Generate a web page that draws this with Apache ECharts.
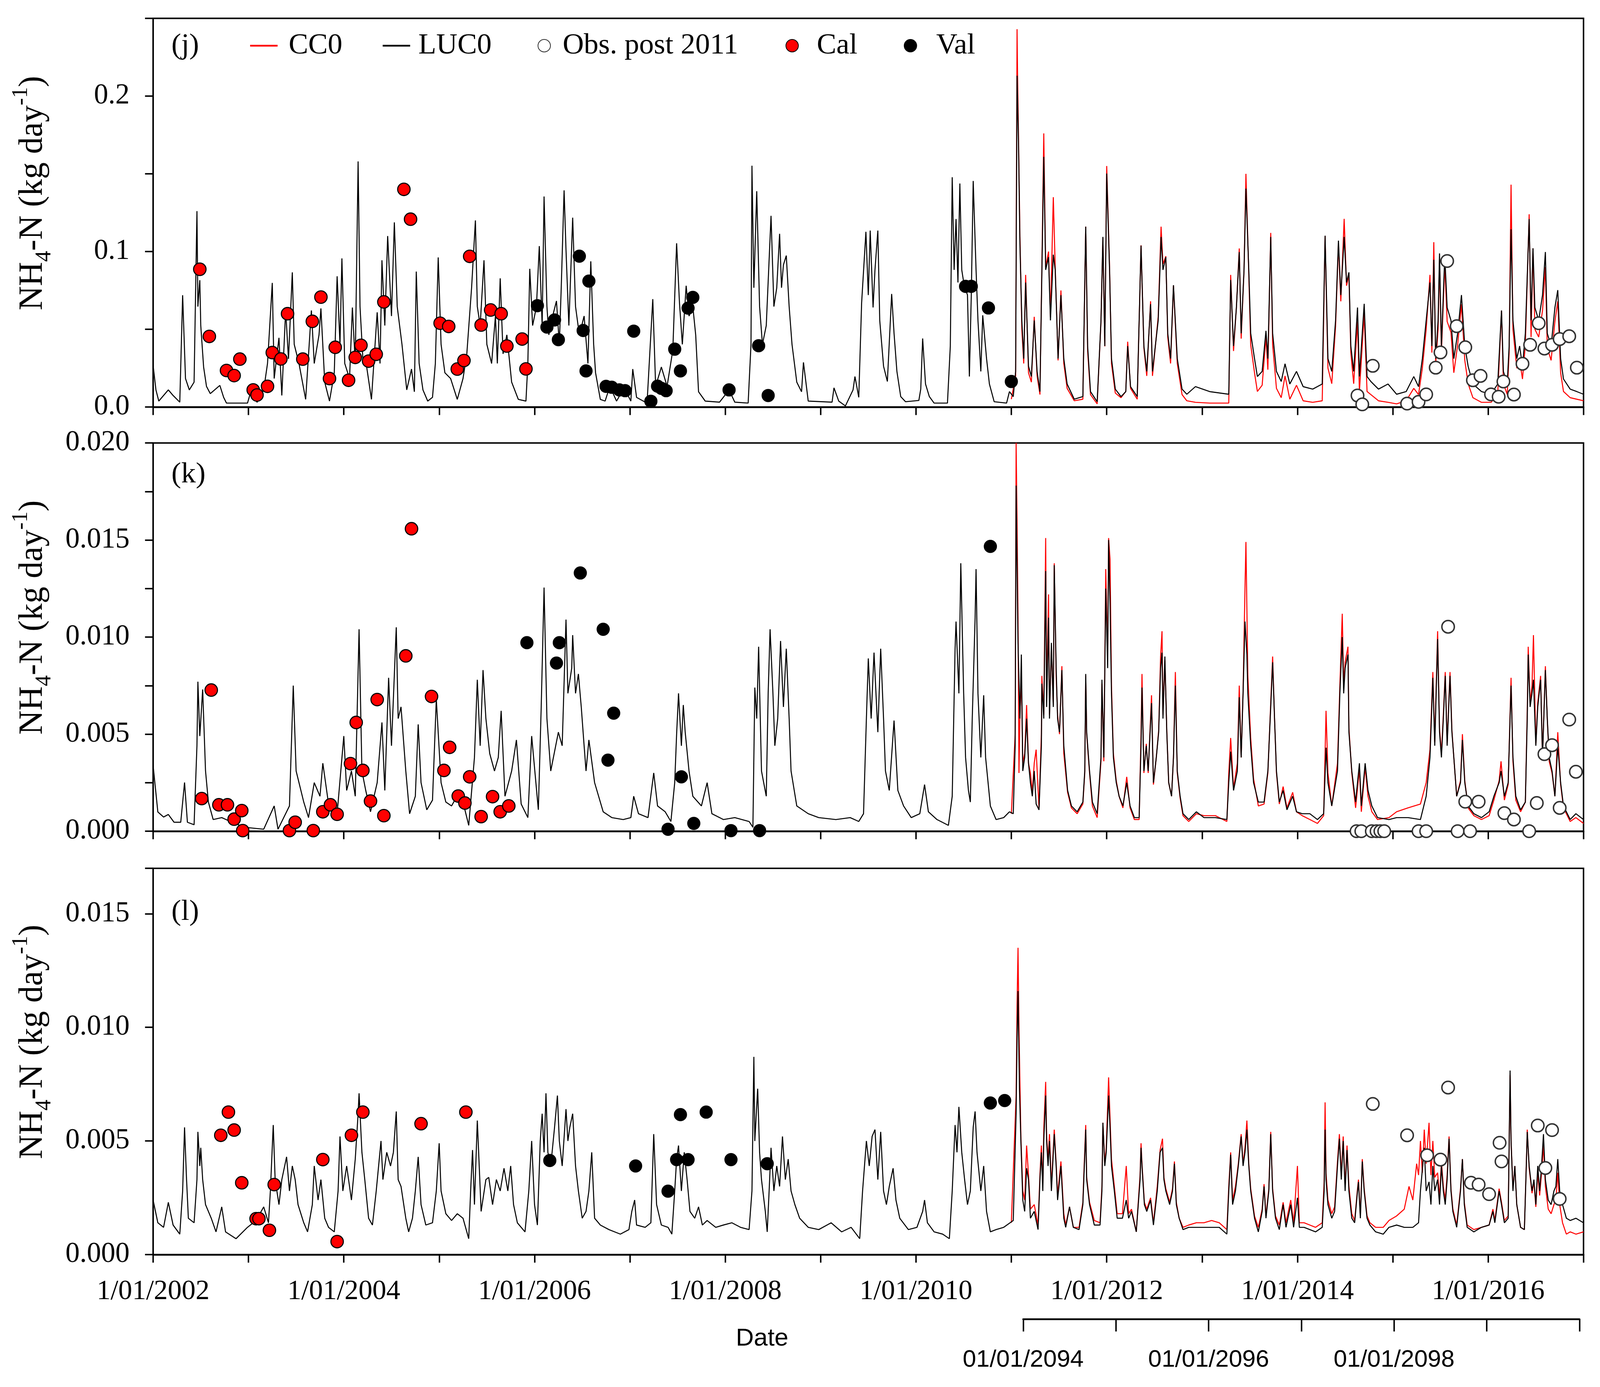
<!DOCTYPE html>
<html>
<head>
<meta charset="utf-8">
<script src="https://cdn.jsdelivr.net/npm/echarts@6/dist/echarts.min.js"></script>
<style>
html,body{margin:0;padding:0;background:#fff;overflow:hidden;width:100%;height:100%;}
#chart{position:absolute;left:0;top:0;width:100vw;height:100vh;}
</style>
</head>
<body>
<div id="chart"></div>
<script>
// ---------- DATA (decimal year, value) ----------
const yearTicksMain = [2002, 2004, 2006, 2008, 2010, 2012, 2014, 2016];
const yearTicksFuture = [2094, 2096, 2098];

// Panel (j) NH4-N, LUC0 (black)
const jLuc = [
[2002.00,0.0269],[2002.03,0.011],[2002.06,0.0038],[2002.16,0.011],[2002.21,0.0074],[2002.28,0.0031],[2002.31,0.0719],[2002.34,0.0183],[2002.38,0.011],[2002.43,0.016],[2002.46,0.126],[2002.47,0.0646],[2002.49,0.0816],[2002.50,0.0524],[2002.53,0.0257],[2002.56,0.0133],[2002.60,0.0086],[2002.70,0.0139],[2002.74,0.0062],[2002.77,0.0025],[2002.99,0.0025],[2003.03,0.011],[2003.09,0.003],[2003.16,0.011],[2003.20,0.028],[2003.25,0.0798],[2003.27,0.0183],[2003.32,0.0445],[2003.35,0.0074],[2003.39,0.0621],[2003.42,0.031],[2003.46,0.0866],[2003.48,0.0403],[2003.53,0.028],[2003.60,0.0049],[2003.66,0.0621],[2003.69,0.028],[2003.74,0.0464],[2003.76,0.0634],[2003.80,0.016],[2003.85,0.0038],[2003.90,0.022],[2003.93,0.0841],[2003.96,0.0403],[2003.98,0.0956],[2004.01,0.028],[2004.06,0.0183],[2004.09,0.064],[2004.12,0.028],[2004.15,0.158],[2004.17,0.0646],[2004.20,0.031],[2004.24,0.0257],[2004.29,0.0049],[2004.35,0.0609],[2004.38,0.028],[2004.40,0.0944],[2004.43,0.0524],[2004.46,0.110],[2004.50,0.0585],[2004.53,0.1188],[2004.56,0.0646],[2004.61,0.0403],[2004.66,0.011],[2004.71,0.0244],[2004.74,0.0098],[2004.76,0.0871],[2004.79,0.028],[2004.83,0.011],[2004.88,0.0038],[2004.93,0.0062],[2004.96,0.028],[2004.99,0.0962],[2005.02,0.0403],[2005.06,0.022],[2005.12,0.0183],[2005.19,0.0049],[2005.25,0.0183],[2005.29,0.0342],[2005.34,0.0767],[2005.38,0.120],[2005.40,0.0646],[2005.43,0.0524],[2005.47,0.0944],[2005.50,0.0403],[2005.55,0.028],[2005.59,0.0585],[2005.61,0.028],[2005.64,0.0828],[2005.67,0.0342],[2005.71,0.0464],[2005.76,0.016],[2005.83,0.0049],[2005.91,0.0038],[2005.93,0.028],[2005.95,0.0889],[2005.98,0.0524],[2006.02,0.0646],[2006.05,0.1035],[2006.08,0.0524],[2006.10,0.1354],[2006.13,0.0646],[2006.15,0.0464],[2006.19,0.0585],[2006.23,0.0682],[2006.26,0.0403],[2006.28,0.0767],[2006.31,0.1394],[2006.33,0.1011],[2006.36,0.0524],[2006.40,0.1218],[2006.43,0.0646],[2006.47,0.0464],[2006.52,0.0585],[2006.56,0.028],[2006.59,0.0937],[2006.62,0.0403],[2006.64,0.022],[2006.69,0.0049],[2006.74,0.0038],[2006.79,0.0133],[2006.86,0.0038],[2006.94,0.0123],[2007.01,0.0038],[2007.03,0.0244],[2007.07,0.0062],[2007.18,0.0025],[2007.24,0.0694],[2007.27,0.0133],[2007.33,0.0257],[2007.39,0.0133],[2007.45,0.0366],[2007.49,0.1053],[2007.52,0.067],[2007.55,0.0403],[2007.59,0.078],[2007.62,0.0585],[2007.66,0.0646],[2007.69,0.0464],[2007.72,0.0098],[2007.79,0.0038],[2007.94,0.0031],[2008.04,0.011],[2008.10,0.0031],[2008.24,0.0025],[2008.27,0.0403],[2008.28,0.1552],[2008.30,0.0767],[2008.33,0.1388],[2008.36,0.0646],[2008.39,0.0403],[2008.43,0.0524],[2008.48,0.123],[2008.51,0.0646],[2008.54,0.0767],[2008.57,0.1114],[2008.59,0.0767],[2008.61,0.0914],[2008.64,0.0974],[2008.67,0.0646],[2008.70,0.0403],[2008.75,0.016],[2008.80,0.0098],[2008.82,0.0287],[2008.87,0.0038],[2009.12,0.0031],[2009.14,0.0123],[2009.19,0.0038],[2009.26,0.0007],[2009.34,0.011],[2009.36,0.0196],[2009.40,0.0062],
[2009.43,0.067],[2009.475,0.1127],[2009.50,0.072],[2009.52,0.1135],[2009.55,0.064],[2009.57,0.0882],[2009.60,0.1135],[2009.62,0.0557],[2009.66,0.0262],[2009.70,0.0164],[2009.745,0.0727],[2009.77,0.0474],[2009.80,0.0229],[2009.84,0.0067],[2009.89,0.0034],[2010.03,0.0042],[2010.05,0.0115],[2010.07,0.0441],[2010.10,0.0148],[2010.14,0.0067],[2010.19,0.0025],[2010.33,0.0025],[2010.36,0.0392],[2010.38,0.1478],[2010.40,0.0882],[2010.42,0.1209],[2010.44,0.0801],[2010.46,0.1438],[2010.48,0.0882],[2010.505,0.0784],[2010.54,0.072],[2010.56,0.0196],[2010.58,0.072],[2010.60,0.1454],[2010.63,0.0882],[2010.65,0.0557],[2010.68,0.0229],[2010.70,0.059],[2010.74,0.0311],[2010.77,0.0148],[2010.82,0.0034],[2010.95,0.0025],[2010.98,0.0099],[2011.02,0.0067],[2011.045,0.0229],[2011.06,0.2131],[2011.075,0.1699],[2011.09,0.1046],[2011.11,0.0557],[2011.13,0.0311],[2011.15,0.0801],[2011.18,0.0262],[2011.21,0.0196],[2011.24,0.0557],[2011.27,0.0229],[2011.30,0.0099],[2011.325,0.1046],[2011.34,0.1609],[2011.36,0.0882],[2011.39,0.0964],[2011.41,0.0557],[2011.44,0.098],[2011.46,0.0882],[2011.49,0.0311],[2011.52,0.072],[2011.55,0.0311],[2011.585,0.0148],[2011.66,0.005],[2011.75,0.0067],[2011.78,0.116],[2011.80,0.0392],[2011.83,0.0099],[2011.90,0.0034],[2011.94,0.0557],[2011.96,0.1094],[2011.98,0.0392],[2012.00,0.1502],[2012.03,0.0882],[2012.05,0.0311],[2012.09,0.0115],[2012.15,0.0067],[2012.20,0.0099],[2012.22,0.0392],[2012.25,0.0131],[2012.32,0.0067],[2012.36,0.1038],[2012.39,0.0392],[2012.42,0.0229],[2012.46,0.0662],[2012.48,0.0229],[2012.54,0.0557],[2012.57,0.1094],[2012.59,0.0882],[2012.62,0.0964],[2012.64,0.0474],[2012.67,0.0311],[2012.70,0.0784],[2012.74,0.0311],[2012.79,0.0115],[2012.84,0.0082],[2012.93,0.0131],[2013.08,0.0099],[2013.28,0.0082],[2013.30,0.0817],[2013.33,0.0392],[2013.36,0.064],[2013.39,0.0997],[2013.41,0.0474],[2013.44,0.0882],[2013.46,0.1405],[2013.49,0.0882],[2013.51,0.0474],[2013.55,0.0311],[2013.58,0.0196],[2013.63,0.0229],[2013.67,0.049],[2013.69,0.0311],[2013.72,0.1094],[2013.74,0.0474],[2013.78,0.0229],[2013.83,0.0164],[2013.87,0.0278],[2013.92,0.0148],[2013.99,0.0229],[2014.06,0.0131],[2014.16,0.0115],[2014.26,0.0148],[2014.29,0.1102],[2014.32,0.0311],[2014.36,0.0229],[2014.40,0.0557],[2014.43,0.107],[2014.455,0.072],[2014.49,0.1094],[2014.515,0.0801],[2014.54,0.0866],[2014.56,0.0392],[2014.59,0.0229],[2014.63,0.064],[2014.65,0.0196],[2014.70,0.0664],[2014.73,0.0196],[2014.77,0.0164],[2014.85,0.0115],[2014.95,0.0148],[2015.04,0.0082],[2015.14,0.0099],[2015.22,0.0196],[2015.27,0.0131],[2015.31,0.0311],[2015.35,0.0557],[2015.39,0.0801],[2015.41,0.0392],[2015.43,0.0947],[2015.45,0.0311],[2015.475,0.0557],[2015.49,0.0988],[2015.51,0.0392],[2015.545,0.0972],[2015.57,0.064],[2015.61,0.0557],[2015.64,0.0311],[2015.68,0.0474],[2015.72,0.072],[2015.755,0.0392],[2015.79,0.0262],[2015.84,0.0148],[2015.93,0.0099],[2016.03,0.0082],[2016.10,0.0148],[2016.14,0.0621],[2016.16,0.0229],[2016.20,0.0148],[2016.22,0.0392],[2016.24,0.1143],[2016.26,0.0557],[2016.30,0.0311],[2016.33,0.0392],[2016.36,0.0262],[2016.39,0.0474],[2016.43,0.1209],[2016.45,0.0557],[2016.47,0.1021],[2016.49,0.064],[2016.53,0.0557],[2016.57,0.072],[2016.60,0.0997],[2016.62,0.0474],[2016.66,0.0392],[2016.70,0.064],[2016.73,0.0752],[2016.76,0.0311],[2016.79,0.018],[2016.86,0.0115],[2016.93,0.0099],[2017.00,0.0082]
];
// Panel (j) CC0 (red)
const jCc = [
[2011.00,0.005],[2011.045,0.02],[2011.06,0.243],[2011.065,0.215],[2011.075,0.175],[2011.09,0.11],[2011.11,0.05],[2011.13,0.028],[2011.15,0.085],[2011.18,0.022],[2011.21,0.016],[2011.24,0.058],[2011.27,0.02],[2011.30,0.008],[2011.325,0.11],[2011.34,0.176],[2011.36,0.09],[2011.39,0.1],[2011.41,0.058],[2011.44,0.135],[2011.46,0.09],[2011.49,0.03],[2011.52,0.075],[2011.55,0.028],[2011.585,0.012],[2011.66,0.004],[2011.75,0.005],[2011.78,0.116],[2011.80,0.036],[2011.83,0.008],[2011.90,0.002],[2011.94,0.055],[2011.96,0.109],[2011.98,0.039],[2012.00,0.155],[2012.03,0.09],[2012.05,0.028],[2012.09,0.009],[2012.15,0.006],[2012.20,0.01],[2012.22,0.042],[2012.25,0.012],[2012.32,0.005],[2012.36,0.104],[2012.39,0.038],[2012.42,0.02],[2012.46,0.068],[2012.48,0.02],[2012.54,0.058],[2012.57,0.116],[2012.59,0.092],[2012.62,0.097],[2012.64,0.045],[2012.67,0.028],[2012.70,0.078],[2012.74,0.028],[2012.79,0.008],[2012.84,0.004],[2012.93,0.003],[2013.08,0.0025],[2013.28,0.0025],[2013.30,0.085],[2013.33,0.036],[2013.36,0.064],[2013.39,0.102],[2013.41,0.044],[2013.44,0.088],[2013.46,0.15],[2013.49,0.085],[2013.51,0.04],[2013.55,0.022],[2013.58,0.01],[2013.63,0.014],[2013.67,0.045],[2013.69,0.024],[2013.72,0.112],[2013.74,0.04],[2013.78,0.012],[2013.83,0.006],[2013.87,0.02],[2013.92,0.005],[2013.99,0.014],[2014.06,0.004],[2014.16,0.003],[2014.26,0.004],[2014.29,0.11],[2014.32,0.025],[2014.36,0.015],[2014.40,0.052],[2014.43,0.105],[2014.455,0.068],[2014.49,0.121],[2014.515,0.078],[2014.54,0.085],[2014.56,0.035],[2014.59,0.015],[2014.63,0.055],[2014.65,0.01],[2014.70,0.06],[2014.73,0.01],[2014.77,0.008],[2014.85,0.004],[2014.95,0.003],[2015.04,0.002],[2015.14,0.004],[2015.22,0.012],[2015.27,0.008],[2015.31,0.025],[2015.35,0.05],[2015.39,0.085],[2015.41,0.035],[2015.43,0.106],[2015.45,0.028],[2015.475,0.05],[2015.49,0.095],[2015.51,0.035],[2015.545,0.092],[2015.57,0.055],[2015.61,0.048],[2015.64,0.022],[2015.68,0.04],[2015.72,0.066],[2015.755,0.03],[2015.79,0.015],[2015.84,0.006],[2015.93,0.003],[2016.03,0.003],[2016.10,0.008],[2016.14,0.062],[2016.16,0.015],[2016.20,0.008],[2016.22,0.035],[2016.24,0.143],[2016.26,0.05],[2016.30,0.025],[2016.33,0.03],[2016.36,0.018],[2016.39,0.04],[2016.43,0.124],[2016.45,0.045],[2016.47,0.102],[2016.49,0.05],[2016.53,0.045],[2016.57,0.062],[2016.60,0.09],[2016.62,0.038],[2016.66,0.03],[2016.70,0.055],[2016.73,0.068],[2016.76,0.022],[2016.79,0.01],[2016.86,0.006],[2016.93,0.005],[2017.00,0.004]
];
const jCal = [[2002.49,0.0886],[2002.59,0.0454],[2002.77,0.0235],[2002.85,0.0202],[2002.91,0.0308],[2003.05,0.011],[2003.09,0.0077],[2003.20,0.0133],[2003.25,0.035],[2003.34,0.0309],[2003.41,0.060],[2003.57,0.0308],[2003.67,0.0551],[2003.76,0.0707],[2003.85,0.0183],[2003.91,0.0384],[2004.05,0.0172],[2004.12,0.0319],[2004.18,0.0397],[2004.26,0.0295],[2004.34,0.0339],[2004.42,0.0676],[2004.63,0.140],[2004.70,0.1208],[2005.01,0.0539],[2005.10,0.0518],[2005.19,0.0244],[2005.26,0.0299],[2005.32,0.0969],[2005.44,0.0527],[2005.54,0.0624],[2005.65,0.060],[2005.71,0.0392],[2005.87,0.0437],[2005.91,0.0245]];
const jVal = [[2006.03,0.0652],[2006.13,0.0514],[2006.21,0.056],[2006.25,0.0433],[2006.47,0.097],[2006.51,0.0492],[2006.54,0.0232],[2006.57,0.081],[2006.75,0.0133],[2006.81,0.0127],[2006.89,0.011],[2006.95,0.0105],[2007.04,0.0488],[2007.22,0.0037],[2007.29,0.0134],[2007.33,0.012],[2007.38,0.0105],[2007.47,0.0372],[2007.53,0.0232],[2007.61,0.0636],[2007.66,0.0705],[2008.04,0.011],[2008.35,0.0394],[2008.45,0.0074],[2010.52,0.0776],[2010.58,0.0776],[2010.76,0.0637],[2011.0,0.0164]];
const jObs = [[2014.63,0.0074],[2014.68,0.0017],[2014.79,0.0265],[2015.15,0.0022],[2015.27,0.0033],[2015.35,0.0081],[2015.45,0.0253],[2015.50,0.0351],[2015.57,0.0939],[2015.67,0.052],[2015.76,0.0384],[2015.84,0.0172],[2015.92,0.020],[2016.03,0.0081],[2016.11,0.0066],[2016.16,0.0164],[2016.27,0.008],[2016.36,0.0278],[2016.44,0.040],[2016.53,0.0539],[2016.59,0.0376],[2016.67,0.040],[2016.75,0.0437],[2016.85,0.0455],[2016.93,0.0253]];

// Panel (k)
const kLuc = [
[2002.00,0.0034],[2002.05,0.00099],[2002.11,0.00073],[2002.16,0.00086],[2002.22,0.00046],[2002.29,0.00046],[2002.33,0.00251],[2002.36,0.00046],[2002.43,0.00033],[2002.46,0.0044],[2002.47,0.0077],[2002.49,0.0049],[2002.52,0.0073],[2002.55,0.0031],[2002.58,0.0015],[2002.63,0.0006],[2002.72,0.0007],[2002.81,0.0005],[2002.96,0.0002],[2003.16,0.0001],[2003.27,0.0013],[2003.31,0.0001],[2003.43,0.0013],[2003.47,0.0075],[2003.50,0.0031],[2003.58,0.0015],[2003.63,0.0007],[2003.69,0.0025],[2003.75,0.0018],[2003.78,0.0035],[2003.84,0.0014],[2003.93,0.0009],[2004.00,0.0049],[2004.03,0.0021],[2004.08,0.0031],[2004.12,0.0018],[2004.16,0.0104],[2004.19,0.0031],[2004.23,0.0021],[2004.28,0.001],[2004.35,0.0025],[2004.40,0.0056],[2004.43,0.0021],[2004.47,0.0079],[2004.50,0.0044],[2004.55,0.0105],[2004.57,0.0058],[2004.60,0.0064],[2004.65,0.0031],[2004.69,0.0009],[2004.75,0.0018],[2004.78,0.0055],[2004.81,0.0025],[2004.87,0.0011],[2004.93,0.0016],[2004.97,0.0068],[2005.02,0.0025],[2005.07,0.0015],[2005.13,0.0013],[2005.22,0.0021],[2005.31,0.0003],[2005.37,0.0038],[2005.40,0.0078],[2005.43,0.0044],[2005.46,0.0083],[2005.49,0.0058],[2005.53,0.004],[2005.58,0.0031],[2005.62,0.0038],[2005.65,0.0062],[2005.69,0.0018],[2005.76,0.0031],[2005.81,0.0047],[2005.86,0.0014],[2005.93,0.0007],[2005.97,0.0049],[2006.04,0.0011],[2006.07,0.0064],[2006.10,0.01255],[2006.13,0.0058],[2006.17,0.0031],[2006.25,0.0051],[2006.29,0.0044],[2006.33,0.0109],[2006.35,0.0071],[2006.39,0.0084],[2006.40,0.0101],[2006.43,0.0071],[2006.46,0.0081],[2006.49,0.0064],[2006.52,0.0044],[2006.54,0.0031],[2006.57,0.0047],[2006.63,0.0025],[2006.72,0.001],[2006.81,0.0007],[2006.93,0.0006],[2007.01,0.0007],[2007.04,0.0018],[2007.09,0.0009],[2007.19,0.0007],[2007.25,0.003],[2007.29,0.0013],[2007.37,0.001],[2007.43,0.0005],[2007.47,0.0025],[2007.49,0.005],[2007.51,0.0071],[2007.54,0.0044],[2007.56,0.0065],[2007.58,0.0051],[2007.62,0.0031],[2007.66,0.0018],[2007.75,0.0013],[2007.81,0.0025],[2007.86,0.0009],[2007.98,0.0006],[2008.10,0.0007],[2008.25,0.0005],[2008.29,0.0002],[2008.31,0.0074],[2008.33,0.0058],[2008.35,0.0095],[2008.38,0.0031],[2008.43,0.0018],[2008.45,0.0071],[2008.47,0.0104],[2008.50,0.0071],[2008.52,0.0044],[2008.55,0.0058],[2008.58,0.0098],[2008.61,0.0064],[2008.64,0.0094],[2008.67,0.0058],[2008.69,0.0031],[2008.75,0.0013],[2008.87,0.0009],[2008.98,0.0007],[2009.16,0.0006],[2009.31,0.0007],[2009.40,0.0005],[2009.45,0.0009],[2009.48,0.0058],[2009.50,0.0089],[2009.53,0.0058],[2009.56,0.0092],[2009.60,0.0051],[2009.63,0.0094],[2009.66,0.0058],[2009.68,0.0031],[2009.72,0.0021],[2009.77,0.0057],[2009.81,0.0021],[2009.87,0.0013],[2009.95,0.0007],[2010.04,0.0009],[2010.09,0.0024],[2010.13,0.001],[2010.22,0.0006],[2010.34,0.0003],[2010.38,0.0018],[2010.41,0.0094],[2010.42,0.0108],[2010.45,0.0071],[2010.47,0.0138],[2010.50,0.0071],[2010.52,0.0038],[2010.55,0.0021],[2010.57,0.0015],[2010.59,0.0058],[2010.62,0.011],[2010.63,0.0135],[2010.65,0.0071],[2010.68,0.0038],[2010.71,0.007],[2010.73,0.0038],[2010.78,0.0013],[2010.84,0.0006],[2010.92,0.0007],[2010.98,0.001],
[2011.02,0.0009],[2011.04,0.0044],[2011.05,0.0178],[2011.06,0.0137],[2011.07,0.0097],[2011.09,0.0058],[2011.105,0.0091],[2011.12,0.0031],[2011.14,0.0038],[2011.16,0.0058],[2011.18,0.0035],[2011.20,0.0025],[2011.22,0.0018],[2011.24,0.0031],[2011.26,0.0014],[2011.29,0.0011],[2011.315,0.0044],[2011.32,0.0076],[2011.34,0.0058],[2011.36,0.0134],[2011.37,0.0064],[2011.39,0.011],[2011.40,0.0058],[2011.42,0.0097],[2011.44,0.0064],[2011.45,0.0137],[2011.47,0.0084],[2011.485,0.0058],[2011.505,0.0051],[2011.53,0.0083],[2011.55,0.0044],[2011.59,0.0021],[2011.63,0.0013],[2011.69,0.001],[2011.75,0.0015],[2011.77,0.0031],[2011.78,0.0081],[2011.79,0.0051],[2011.82,0.0031],[2011.85,0.0015],[2011.90,0.0009],[2011.94,0.0038],[2011.95,0.0078],[2011.97,0.0038],[2011.99,0.0125],[2012.01,0.0084],[2012.02,0.015],[2012.035,0.0117],[2012.05,0.0071],[2012.07,0.0038],[2012.10,0.0025],[2012.13,0.0018],[2012.17,0.0013],[2012.21,0.0025],[2012.245,0.0013],[2012.29,0.0007],[2012.34,0.0007],[2012.36,0.0044],[2012.37,0.0074],[2012.39,0.0031],[2012.415,0.0044],[2012.435,0.0031],[2012.47,0.0066],[2012.49,0.0025],[2012.52,0.0038],[2012.545,0.0051],[2012.565,0.0084],[2012.58,0.0092],[2012.59,0.0058],[2012.61,0.009],[2012.63,0.0051],[2012.65,0.0025],[2012.68,0.0018],[2012.70,0.0038],[2012.72,0.0075],[2012.74,0.0031],[2012.77,0.0018],[2012.80,0.0009],[2012.86,0.0006],[2012.94,0.001],[2013.02,0.0007],[2013.14,0.0007],[2013.26,0.0006],[2013.28,0.0025],[2013.30,0.0041],[2013.33,0.0021],[2013.37,0.0031],[2013.39,0.0069],[2013.41,0.0038],[2013.43,0.0071],[2013.45,0.0108],[2013.47,0.0091],[2013.48,0.0071],[2013.51,0.0044],[2013.54,0.0025],[2013.59,0.0015],[2013.65,0.0015],[2013.69,0.0031],[2013.72,0.0064],[2013.74,0.0087],[2013.76,0.0058],[2013.78,0.0031],[2013.81,0.0015],[2013.85,0.0021],[2013.89,0.0011],[2013.95,0.0018],[2013.99,0.001],[2014.05,0.0009],[2014.13,0.0009],[2014.21,0.0006],[2014.275,0.0009],[2014.30,0.0043],[2014.32,0.0025],[2014.36,0.0013],[2014.42,0.0031],[2014.445,0.0071],[2014.47,0.01],[2014.485,0.0071],[2014.50,0.0084],[2014.53,0.0091],[2014.54,0.0051],[2014.57,0.0031],[2014.61,0.0015],[2014.65,0.0035],[2014.67,0.0013],[2014.71,0.0035],[2014.74,0.0021],[2014.78,0.0013],[2014.84,0.0007],[2014.96,0.0006],[2015.04,0.0007],[2015.16,0.0007],[2015.29,0.0006],[2015.35,0.0018],[2015.39,0.0038],[2015.42,0.0079],[2015.44,0.0044],[2015.47,0.0099],[2015.49,0.0051],[2015.51,0.0038],[2015.53,0.0058],[2015.55,0.008],[2015.57,0.0044],[2015.60,0.008],[2015.62,0.0051],[2015.64,0.0038],[2015.67,0.0018],[2015.71,0.0025],[2015.73,0.0047],[2015.755,0.0025],[2015.79,0.0013],[2015.85,0.0009],[2015.93,0.0007],[2016.01,0.001],[2016.06,0.0018],[2016.115,0.0025],[2016.135,0.0031],[2016.17,0.0018],[2016.21,0.0025],[2016.24,0.0075],[2016.26,0.0038],[2016.29,0.0018],[2016.34,0.0011],[2016.39,0.0015],[2016.41,0.0058],[2016.42,0.0091],[2016.44,0.0064],[2016.46,0.0071],[2016.475,0.0078],[2016.50,0.0044],[2016.52,0.0064],[2016.55,0.0078],[2016.57,0.0038],[2016.60,0.0083],[2016.62,0.0058],[2016.64,0.0038],[2016.67,0.0031],[2016.70,0.0018],[2016.73,0.0044],[2016.76,0.0025],[2016.79,0.0013],[2016.86,0.0006],[2016.92,0.0009],[2017.00,0.0006]
];
const kCc = [
[2011.00,0.0009],[2011.04,0.005],[2011.05,0.02],[2011.06,0.016],[2011.07,0.011],[2011.08,0.003],[2011.09,0.006],[2011.105,0.008],[2011.12,0.0035],[2011.14,0.004],[2011.16,0.0065],[2011.18,0.0035],[2011.20,0.003],[2011.22,0.002],[2011.24,0.0035],[2011.26,0.0042],[2011.29,0.0012],[2011.315,0.005],[2011.32,0.008],[2011.34,0.006],[2011.36,0.0151],[2011.37,0.007],[2011.39,0.0122],[2011.40,0.006],[2011.42,0.0095],[2011.44,0.0065],[2011.45,0.0138],[2011.47,0.008],[2011.485,0.006],[2011.505,0.005],[2011.53,0.0085],[2011.55,0.004],[2011.59,0.002],[2011.63,0.0012],[2011.69,0.0009],[2011.75,0.0014],[2011.77,0.003],[2011.78,0.008],[2011.79,0.005],[2011.82,0.003],[2011.85,0.0013],[2011.90,0.0007],[2011.94,0.0036],[2011.95,0.0076],[2011.97,0.0036],[2011.99,0.0135],[2012.01,0.009],[2012.02,0.0151],[2012.035,0.014],[2012.05,0.0075],[2012.07,0.004],[2012.10,0.0026],[2012.13,0.0018],[2012.17,0.0012],[2012.21,0.0028],[2012.245,0.0012],[2012.29,0.0006],[2012.34,0.0006],[2012.36,0.005],[2012.37,0.0081],[2012.39,0.003],[2012.415,0.0045],[2012.435,0.003],[2012.47,0.007],[2012.49,0.0024],[2012.52,0.0038],[2012.545,0.0052],[2012.565,0.009],[2012.58,0.0103],[2012.59,0.006],[2012.61,0.0088],[2012.63,0.0052],[2012.65,0.0025],[2012.68,0.0018],[2012.70,0.0038],[2012.72,0.0082],[2012.74,0.003],[2012.77,0.0017],[2012.80,0.0008],[2012.86,0.0005],[2012.94,0.0009],[2013.02,0.0008],[2013.14,0.0008],[2013.26,0.0005],[2013.28,0.003],[2013.30,0.0048],[2013.33,0.0022],[2013.37,0.0035],[2013.39,0.0075],[2013.41,0.0038],[2013.43,0.0072],[2013.45,0.0125],[2013.46,0.0149],[2013.48,0.008],[2013.51,0.0048],[2013.54,0.0027],[2013.59,0.0013],[2013.65,0.0014],[2013.69,0.003],[2013.72,0.0066],[2013.74,0.009],[2013.76,0.0058],[2013.78,0.003],[2013.81,0.0014],[2013.85,0.0023],[2013.89,0.0012],[2013.95,0.002],[2013.99,0.001],[2014.05,0.0008],[2014.13,0.0006],[2014.21,0.0004],[2014.275,0.0008],[2014.30,0.0062],[2014.32,0.003],[2014.36,0.0013],[2014.42,0.0035],[2014.445,0.0075],[2014.47,0.0112],[2014.485,0.0075],[2014.50,0.0087],[2014.53,0.0095],[2014.54,0.0053],[2014.57,0.003],[2014.61,0.0012],[2014.65,0.0032],[2014.67,0.001],[2014.71,0.0033],[2014.74,0.0018],[2014.78,0.001],[2014.84,0.0006],[2014.96,0.0007],[2015.04,0.001],[2015.16,0.0012],[2015.29,0.0014],[2015.35,0.0025],[2015.39,0.0042],[2015.42,0.0082],[2015.44,0.0046],[2015.47,0.0103],[2015.49,0.0053],[2015.51,0.004],[2015.53,0.006],[2015.55,0.0082],[2015.57,0.0045],[2015.60,0.0082],[2015.62,0.0052],[2015.64,0.0038],[2015.67,0.0018],[2015.71,0.0026],[2015.73,0.005],[2015.755,0.0026],[2015.79,0.0012],[2015.85,0.0008],[2015.93,0.0006],[2016.01,0.0008],[2016.06,0.0016],[2016.115,0.0026],[2016.135,0.0036],[2016.17,0.0016],[2016.21,0.0024],[2016.24,0.0079],[2016.26,0.0036],[2016.29,0.0016],[2016.34,0.001],[2016.39,0.0015],[2016.41,0.0062],[2016.42,0.0095],[2016.44,0.0066],[2016.46,0.0075],[2016.475,0.0101],[2016.50,0.0045],[2016.52,0.0066],[2016.55,0.008],[2016.57,0.0038],[2016.60,0.0085],[2016.62,0.0058],[2016.64,0.0036],[2016.67,0.003],[2016.70,0.0018],[2016.73,0.0051],[2016.76,0.0024],[2016.79,0.0012],[2016.86,0.0005],[2016.92,0.0007],[2017.00,0.0004]
];
const kCal = [[2002.51,0.00168],[2002.61,0.00727],[2002.69,0.00136],[2002.78,0.00136],[2002.85,0.00062],[2002.93,0.00106],[2002.94,0.00003],[2003.43,0.00003],[2003.49,0.00046],[2003.68,0.00003],[2003.78,0.001],[2003.86,0.00136],[2003.93,0.00087],[2004.07,0.00348],[2004.13,0.0056],[2004.20,0.00313],[2004.28,0.00155],[2004.35,0.00678],[2004.42,0.0008],[2004.65,0.00903],[2004.71,0.01558],[2004.92,0.00694],[2005.05,0.00313],[2005.11,0.00432],[2005.20,0.00181],[2005.27,0.00145],[2005.32,0.0028],[2005.44,0.00075],[2005.56,0.00178],[2005.64,0.001],[2005.73,0.0013]];
const kVal = [[2005.92,0.00971],[2006.23,0.00866],[2006.26,0.00971],[2006.48,0.0133],[2006.72,0.0104],[2006.77,0.00366],[2006.83,0.00608],[2007.40,0.0001],[2007.54,0.0028],[2007.67,0.0004],[2008.06,0.00003],[2008.36,0.00003],[2010.78,0.01467]];
const kObs = [[2014.62,0],[2014.67,0],[2014.78,0],[2014.83,0],[2014.87,0],[2014.91,0],[2015.27,0],[2015.35,0],[2015.58,0.01053],[2015.68,0],[2015.76,0.00152],[2015.81,0],[2015.90,0.00152],[2016.17,0.00093],[2016.27,0.0006],[2016.43,0],[2016.51,0.00145],[2016.59,0.00397],[2016.67,0.00443],[2016.75,0.0012],[2016.85,0.00575],[2016.92,0.00306]];

// Panel (l)
const lLuc = [
[2002.00,0.0024],[2002.05,0.0014],[2002.11,0.0012],[2002.16,0.0023],[2002.21,0.0013],[2002.28,0.0009],[2002.31,0.0028],[2002.33,0.0056],[2002.35,0.0034],[2002.37,0.0016],[2002.43,0.0014],[2002.46,0.0033],[2002.47,0.0054],[2002.49,0.0039],[2002.50,0.0047],[2002.52,0.0033],[2002.55,0.0022],[2002.61,0.0016],[2002.66,0.001],[2002.72,0.0021],[2002.76,0.001],[2002.87,0.0007],[2002.99,0.0012],[2003.08,0.0015],[2003.16,0.0021],[2003.21,0.0014],[2003.23,0.0028],[2003.26,0.0057],[2003.28,0.0033],[2003.32,0.0022],[2003.35,0.0033],[2003.40,0.0043],[2003.43,0.0028],[2003.46,0.0039],[2003.49,0.0033],[2003.52,0.0022],[2003.58,0.0014],[2003.62,0.001],[2003.67,0.0022],[2003.69,0.0039],[2003.73,0.0024],[2003.76,0.0033],[2003.80,0.0016],[2003.84,0.0012],[2003.90,0.001],[2003.94,0.0028],[2003.96,0.0052],[2003.99,0.0028],[2004.03,0.0039],[2004.08,0.0024],[2004.12,0.0042],[2004.15,0.0062],[2004.16,0.0071],[2004.19,0.0045],[2004.22,0.0033],[2004.26,0.0016],[2004.30,0.0013],[2004.34,0.0028],[2004.39,0.005],[2004.41,0.0033],[2004.45,0.0045],[2004.49,0.0039],[2004.52,0.0045],[2004.55,0.0063],[2004.57,0.0033],[2004.60,0.003],[2004.65,0.0016],[2004.68,0.001],[2004.72,0.0016],[2004.75,0.0028],[2004.78,0.0043],[2004.81,0.0022],[2004.86,0.0013],[2004.93,0.0014],[2004.97,0.0028],[2005.00,0.0049],[2005.02,0.0028],[2005.07,0.0018],[2005.13,0.0015],[2005.19,0.0018],[2005.25,0.0016],[2005.31,0.0007],[2005.33,0.0028],[2005.35,0.0046],[2005.37,0.0022],[2005.40,0.0059],[2005.42,0.0039],[2005.44,0.0019],[2005.49,0.0033],[2005.52,0.0034],[2005.56,0.0022],[2005.60,0.0033],[2005.64,0.0028],[2005.68,0.0038],[2005.72,0.0028],[2005.75,0.0039],[2005.78,0.0022],[2005.82,0.0014],[2005.90,0.001],[2005.94,0.0028],[2005.97,0.005],[2006.00,0.0022],[2006.03,0.0013],[2006.06,0.005],[2006.08,0.0062],[2006.10,0.0045],[2006.12,0.0071],[2006.14,0.0045],[2006.17,0.0039],[2006.21,0.0056],[2006.24,0.007],[2006.26,0.005],[2006.29,0.0039],[2006.33,0.0064],[2006.35,0.005],[2006.37,0.0056],[2006.40,0.0062],[2006.43,0.0039],[2006.46,0.0028],[2006.50,0.0016],[2006.54,0.0019],[2006.57,0.0028],[2006.60,0.0045],[2006.63,0.0016],[2006.69,0.0013],[2006.78,0.0011],[2006.90,0.0009],[2006.99,0.0011],[2007.02,0.0019],[2007.05,0.0024],[2007.07,0.0013],[2007.16,0.0012],[2007.22,0.0014],[2007.25,0.0053],[2007.28,0.0022],[2007.33,0.0013],[2007.40,0.0012],[2007.44,0.0009],[2007.47,0.0028],[2007.49,0.0042],[2007.51,0.0048],[2007.54,0.0028],[2007.57,0.0045],[2007.60,0.0033],[2007.63,0.0019],[2007.68,0.0016],[2007.72,0.0021],[2007.76,0.0013],[2007.81,0.0015],[2007.90,0.0012],[2007.98,0.0013],[2008.07,0.0014],[2008.16,0.0012],[2008.25,0.0011],[2008.28,0.0028],[2008.30,0.0087],[2008.31,0.005],[2008.34,0.0073],[2008.36,0.0045],[2008.38,0.0033],[2008.42,0.0019],[2008.44,0.001],[2008.46,0.0028],[2008.48,0.0047],[2008.51,0.0028],[2008.54,0.0039],[2008.57,0.003],[2008.60,0.0052],[2008.63,0.0033],[2008.66,0.0042],[2008.69,0.0028],[2008.73,0.0022],[2008.78,0.0016],[2008.87,0.0012],[2008.98,0.0011],[2009.11,0.0014],[2009.22,0.001],[2009.32,0.0012],[2009.41,0.0007],[2009.44,0.0028],[2009.48,0.005],[2009.51,0.0039],[2009.54,0.0052],[2009.57,0.0055],[2009.60,0.0033],[2009.63,0.0054],[2009.66,0.0028],[2009.69,0.0022],[2009.72,0.003],[2009.76,0.0038],[2009.79,0.0024],[2009.83,0.0016],[2009.92,0.0011],[2010.01,0.0012],[2010.07,0.0019],[2010.09,0.0024],[2010.12,0.0014],[2010.19,0.001],[2010.28,0.0009],[2010.35,0.0007],[2010.38,0.0028],[2010.41,0.0057],[2010.43,0.0045],[2010.45,0.0065],[2010.48,0.0045],[2010.51,0.0033],[2010.54,0.0022],[2010.57,0.0028],[2010.60,0.0056],[2010.62,0.0063],[2010.64,0.0045],[2010.68,0.0028],[2010.71,0.0039],[2010.74,0.0019],[2010.78,0.001],[2010.84,0.0011],[2010.92,0.0012],
[2011.02,0.0015],[2011.05,0.0062],[2011.06,0.0095],[2011.07,0.0116],[2011.085,0.0073],[2011.10,0.005],[2011.12,0.0024],[2011.14,0.0019],[2011.16,0.0038],[2011.18,0.0033],[2011.20,0.0016],[2011.24,0.0019],[2011.28,0.0011],[2011.30,0.0033],[2011.315,0.0045],[2011.33,0.0028],[2011.34,0.005],[2011.36,0.007],[2011.37,0.005],[2011.385,0.0039],[2011.40,0.005],[2011.42,0.0028],[2011.45,0.0053],[2011.47,0.0039],[2011.485,0.0024],[2011.52,0.0039],[2011.55,0.0016],[2011.57,0.0012],[2011.61,0.0021],[2011.65,0.0012],[2011.71,0.0011],[2011.75,0.0022],[2011.76,0.0033],[2011.78,0.0055],[2011.79,0.0033],[2011.82,0.0022],[2011.87,0.0013],[2011.93,0.0013],[2011.95,0.0028],[2011.96,0.0058],[2011.98,0.0039],[2011.995,0.0045],[2012.02,0.007],[2012.035,0.0056],[2012.05,0.0039],[2012.08,0.0028],[2012.11,0.0016],[2012.165,0.0016],[2012.205,0.0024],[2012.23,0.0016],[2012.26,0.0019],[2012.31,0.001],[2012.35,0.0033],[2012.36,0.0047],[2012.37,0.0039],[2012.395,0.0022],[2012.42,0.0019],[2012.46,0.0024],[2012.49,0.0013],[2012.53,0.0028],[2012.56,0.0045],[2012.585,0.0047],[2012.60,0.0033],[2012.62,0.0028],[2012.66,0.0022],[2012.69,0.0028],[2012.71,0.004],[2012.73,0.0022],[2012.76,0.0016],[2012.80,0.0011],[2012.86,0.0012],[2012.94,0.0012],[2013.02,0.0012],[2013.10,0.0012],[2013.18,0.0012],[2013.26,0.0009],[2013.28,0.0028],[2013.30,0.0044],[2013.32,0.0022],[2013.35,0.0028],[2013.38,0.0039],[2013.41,0.0052],[2013.43,0.0039],[2013.45,0.0045],[2013.47,0.0055],[2013.49,0.0039],[2013.51,0.0028],[2013.55,0.0016],[2013.59,0.001],[2013.63,0.0019],[2013.65,0.003],[2013.67,0.0016],[2013.70,0.0028],[2013.72,0.0053],[2013.74,0.0028],[2013.77,0.0016],[2013.81,0.0011],[2013.85,0.0022],[2013.88,0.0012],[2013.93,0.0022],[2013.96,0.0012],[2014.00,0.0025],[2014.02,0.0012],[2014.07,0.0012],[2014.13,0.0011],[2014.19,0.001],[2014.26,0.0012],[2014.28,0.0028],[2014.29,0.0055],[2014.30,0.0033],[2014.32,0.0022],[2014.36,0.0016],[2014.39,0.0019],[2014.42,0.0039],[2014.44,0.0051],[2014.46,0.0033],[2014.48,0.005],[2014.50,0.0028],[2014.52,0.0046],[2014.54,0.0028],[2014.57,0.0016],[2014.60,0.0014],[2014.63,0.0028],[2014.64,0.0032],[2014.66,0.0016],[2014.68,0.0041],[2014.70,0.0028],[2014.73,0.0016],[2014.76,0.0013],[2014.82,0.001],[2014.90,0.0009],[2014.96,0.0012],[2015.04,0.0013],[2015.12,0.0012],[2015.21,0.0012],[2015.27,0.0014],[2015.29,0.0028],[2015.33,0.0047],[2015.35,0.0028],[2015.38,0.0032],[2015.40,0.0022],[2015.42,0.0039],[2015.44,0.0028],[2015.47,0.0033],[2015.49,0.0022],[2015.51,0.0039],[2015.53,0.0028],[2015.55,0.0022],[2015.57,0.0033],[2015.59,0.0051],[2015.61,0.0028],[2015.63,0.0019],[2015.67,0.0012],[2015.71,0.0028],[2015.73,0.0042],[2015.75,0.0022],[2015.78,0.0012],[2015.85,0.001],[2015.93,0.0012],[2016.01,0.0013],[2016.05,0.0019],[2016.07,0.0014],[2016.115,0.0028],[2016.14,0.0022],[2016.17,0.0014],[2016.21,0.0016],[2016.23,0.0081],[2016.24,0.005],[2016.26,0.0028],[2016.28,0.0039],[2016.30,0.0022],[2016.34,0.0012],[2016.38,0.0011],[2016.40,0.0039],[2016.41,0.0054],[2016.43,0.0039],[2016.46,0.0028],[2016.48,0.0033],[2016.50,0.0022],[2016.52,0.0039],[2016.54,0.0028],[2016.56,0.0039],[2016.58,0.0053],[2016.60,0.0033],[2016.63,0.0024],[2016.66,0.0022],[2016.69,0.0028],[2016.71,0.003],[2016.73,0.0042],[2016.75,0.0028],[2016.78,0.0022],[2016.82,0.0016],[2016.86,0.0015],[2016.92,0.0016],[2017.00,0.0014]
];
const lCc = [
[2011.00,0.0014],[2011.05,0.007],[2011.06,0.011],[2011.07,0.0135],[2011.08,0.01],[2011.10,0.0052],[2011.12,0.0028],[2011.14,0.0024],[2011.16,0.0048],[2011.18,0.0035],[2011.20,0.002],[2011.24,0.0022],[2011.28,0.0013],[2011.30,0.0035],[2011.315,0.0048],[2011.33,0.003],[2011.34,0.0055],[2011.36,0.0076],[2011.37,0.0052],[2011.385,0.0042],[2011.40,0.0053],[2011.42,0.003],[2011.45,0.0055],[2011.47,0.004],[2011.485,0.0026],[2011.52,0.0041],[2011.55,0.0018],[2011.57,0.0013],[2011.61,0.0021],[2011.65,0.0012],[2011.71,0.0012],[2011.75,0.0023],[2011.76,0.0035],[2011.78,0.0057],[2011.79,0.0034],[2011.82,0.0023],[2011.87,0.0015],[2011.93,0.0014],[2011.95,0.003],[2011.96,0.0058],[2011.98,0.004],[2011.995,0.0047],[2012.02,0.0078],[2012.035,0.006],[2012.05,0.0042],[2012.08,0.003],[2012.11,0.0018],[2012.165,0.0018],[2012.205,0.0039],[2012.23,0.0018],[2012.26,0.002],[2012.31,0.001],[2012.35,0.0035],[2012.36,0.0049],[2012.37,0.004],[2012.395,0.0023],[2012.42,0.002],[2012.46,0.0025],[2012.49,0.0014],[2012.53,0.003],[2012.56,0.0046],[2012.585,0.0051],[2012.60,0.0034],[2012.62,0.0029],[2012.66,0.0023],[2012.69,0.0029],[2012.71,0.0041],[2012.73,0.0023],[2012.76,0.0016],[2012.80,0.0012],[2012.86,0.0013],[2012.94,0.0014],[2013.02,0.0014],[2013.10,0.0015],[2013.18,0.0014],[2013.26,0.0011],[2013.28,0.003],[2013.30,0.0045],[2013.32,0.0024],[2013.35,0.003],[2013.38,0.004],[2013.41,0.0053],[2013.43,0.004],[2013.45,0.0047],[2013.47,0.0059],[2013.49,0.004],[2013.51,0.0029],[2013.55,0.0017],[2013.59,0.0012],[2013.63,0.002],[2013.65,0.0031],[2013.67,0.0017],[2013.70,0.0029],[2013.72,0.0054],[2013.74,0.0029],[2013.77,0.0017],[2013.81,0.0013],[2013.85,0.0023],[2013.88,0.0014],[2013.93,0.0024],[2013.96,0.0014],[2014.00,0.0039],[2014.02,0.0014],[2014.07,0.0014],[2014.13,0.0013],[2014.19,0.0012],[2014.26,0.0014],[2014.28,0.0032],[2014.29,0.0067],[2014.30,0.0036],[2014.32,0.0024],[2014.36,0.0018],[2014.39,0.0021],[2014.42,0.0041],[2014.44,0.0053],[2014.46,0.0035],[2014.48,0.0052],[2014.50,0.003],[2014.52,0.0048],[2014.54,0.003],[2014.57,0.0018],[2014.60,0.0015],[2014.63,0.0029],[2014.64,0.0033],[2014.66,0.0017],[2014.68,0.0042],[2014.70,0.0029],[2014.73,0.0017],[2014.76,0.0014],[2014.82,0.0012],[2014.90,0.0012],[2014.96,0.0015],[2015.04,0.0017],[2015.12,0.002],[2015.17,0.003],[2015.21,0.0024],[2015.25,0.004],[2015.27,0.0035],[2015.29,0.005],[2015.31,0.0036],[2015.33,0.0055],[2015.35,0.004],[2015.38,0.0058],[2015.40,0.0035],[2015.42,0.005],[2015.44,0.0034],[2015.47,0.0036],[2015.49,0.0025],[2015.51,0.0041],[2015.53,0.003],[2015.55,0.0024],[2015.57,0.0035],[2015.59,0.0052],[2015.61,0.0029],[2015.63,0.002],[2015.67,0.0013],[2015.71,0.0029],[2015.73,0.0042],[2015.75,0.0023],[2015.78,0.0013],[2015.85,0.0011],[2015.93,0.0012],[2016.01,0.0013],[2016.05,0.002],[2016.07,0.0015],[2016.115,0.0029],[2016.14,0.0023],[2016.17,0.0015],[2016.21,0.0017],[2016.23,0.0079],[2016.24,0.005],[2016.26,0.0029],[2016.28,0.0039],[2016.30,0.0022],[2016.34,0.0012],[2016.38,0.0011],[2016.40,0.004],[2016.41,0.0055],[2016.43,0.0038],[2016.46,0.0027],[2016.48,0.0032],[2016.50,0.0021],[2016.52,0.0036],[2016.54,0.0026],[2016.56,0.0036],[2016.58,0.0048],[2016.60,0.003],[2016.63,0.002],[2016.66,0.0018],[2016.69,0.0022],[2016.71,0.0024],[2016.73,0.0036],[2016.75,0.0022],[2016.78,0.0014],[2016.82,0.0009],[2016.86,0.001],[2016.92,0.0009],[2017.00,0.001]
];
const lCal = [[2002.71,0.00525],[2002.79,0.00627],[2002.85,0.00548],[2002.93,0.00316],[2003.08,0.00158],[2003.11,0.00158],[2003.22,0.00107],[2003.27,0.00308],[2003.78,0.00418],[2003.93,0.00057],[2004.08,0.00525],[2004.20,0.00627],[2004.81,0.00576],[2005.28,0.00627]];
const lVal = [[2006.16,0.00414],[2007.06,0.0039],[2007.40,0.00279],[2007.49,0.00418],[2007.53,0.00616],[2007.61,0.00418],[2007.80,0.00627],[2008.06,0.00418],[2008.44,0.004],[2010.78,0.00667],[2010.93,0.00678]];
const lObs = [[2014.79,0.00663],[2015.15,0.00525],[2015.36,0.00437],[2015.50,0.00418],[2015.58,0.00735],[2015.82,0.00316],[2015.90,0.00308],[2016.01,0.00266],[2016.12,0.00492],[2016.14,0.0041],[2016.52,0.00568],[2016.60,0.00381],[2016.67,0.00548],[2016.75,0.00245]];

// ---------- CHART ----------
const SERIF = '"Liberation Serif", "Times New Roman", serif';
const SANS = '"Liberation Sans", Arial, sans-serif';
const el = document.getElementById('chart');
const W = el.clientWidth || window.innerWidth || 4369;
const H = el.clientHeight || window.innerHeight || 3551;
const SX = W / 4369, SY = H / 3551, SF = Math.min(SX, SY);
const X = v => v * SX, Y = v => v * SY, F = v => v * SF;
const chart = echarts.init(el, null, {renderer: 'canvas', width: W, height: H});

function xAx(g, showLabel) {
  return {
    type: 'value', gridIndex: g, min: 2002, max: 2017, interval: 1,
    axisLine: {show: true, onZero: false, lineStyle: {color: '#000', width: F(5)}},
    axisTick: {show: true, inside: false, length: F(22), lineStyle: {color: '#000', width: F(4)}},
    axisLabel: {show: showLabel, margin: Y(60), fontFamily: SERIF, fontSize: F(76), color: '#000',
      formatter: v => (yearTicksMain.indexOf(Math.round(v)) >= 0 && Math.abs(v - Math.round(v)) < 1e-6) ? '1/01/' + Math.round(v) : ''},
    splitLine: {show: false}
  };
}
// vertical (rotated) title: its length runs along the y direction
const FN = Y(86), FS = Y(56);
const yName = '{n|NH}{s|4}{n|-N (kg day}{p|-1}{n|)}';
const yNameStyle = {
  fontFamily: SERIF, fontSize: FN, color: '#000',
  padding: [0, 0, 0, Y(100)],
  rich: {
    n: {fontFamily: SERIF, fontSize: FN, lineHeight: X(124), color: '#000'},
    s: {fontFamily: SERIF, fontSize: FS, lineHeight: FS, verticalAlign: 'bottom', color: '#000'},
    p: {fontFamily: SERIF, fontSize: FS, lineHeight: FS, verticalAlign: 'top', color: '#000'}
  }
};
function yAx(g, max, interval, labelStep, dec) {
  return {
    type: 'value', gridIndex: g, min: 0, max: max, interval: interval,
    name: yName, nameLocation: 'middle', nameGap: X(266), nameRotate: 90, nameTextStyle: yNameStyle,
    axisLine: {show: true, lineStyle: {color: '#000', width: F(4)}},
    axisTick: {show: true, inside: false, length: F(22), lineStyle: {color: '#000', width: F(4)}},
    axisLabel: {margin: X(64), fontFamily: SERIF, fontSize: F(78), color: '#000',
      formatter: v => {
        const r = v / labelStep;
        return Math.abs(r - Math.round(r)) < 1e-6 ? v.toFixed(dec) : '';
      }},
    splitLine: {show: false}
  };
}
function lineS(name, data, idx, color, z) {
  return {type: 'line', name: name, data: data, xAxisIndex: idx, yAxisIndex: idx,
    symbol: 'none', showSymbol: false, lineStyle: {color: color, width: F(2.8)}, itemStyle: {color: color},
    z: z, animation: false, silent: true, emphasis: {disabled: true}};
}
function scatS(name, data, idx, fill, stroke, bw) {
  return {type: 'scatter', name: name, data: data, xAxisIndex: idx, yAxisIndex: idx,
    symbol: 'circle', symbolSize: F(34), clip: false,
    itemStyle: {color: fill, borderColor: stroke, borderWidth: F(bw), opacity: 1},
    z: 5, animation: false, emphasis: {disabled: true}};
}
function leg(item, left, w, h, pad) {
  return {data: [item], left: X(left), top: Y(117) - F(40), padding: 0, itemWidth: F(w), itemHeight: F(h),
    selectedMode: false,
    textStyle: {fontFamily: SERIF, fontSize: F(80), lineHeight: F(80), color: '#000', padding: [0, 0, 0, F(pad)]}};
}

const grids = [
  {left: X(418), top: Y(47), width: X(3906), height: Y(995)},
  {left: X(418), top: Y(1134), width: X(3906), height: Y(994)},
  {left: X(418), top: Y(2223), width: X(3906), height: Y(989)}
].map(g => Object.assign(g, {show: true, borderColor: '#000', borderWidth: F(4), backgroundColor: 'transparent', containLabel: false, outerBoundsMode: 'none'}));
grids.push({left: X(2794), top: Y(3376), width: X(1519), height: Y(1), show: false, containLabel: false, outerBoundsMode: 'none'});

const option = {
  animation: false,
  backgroundColor: '#fff',
  textStyle: {fontFamily: SERIF},
  grid: grids,
  legend: [
    leg({name: 'CC0', icon: 'rect', itemStyle: {color: '#ff0000'}}, 683, 75, 5, 25),
    leg({name: 'LUC0', icon: 'rect', itemStyle: {color: '#000000'}}, 1045, 75, 5, 17),
    leg('Obs. post 2011', 1468, 34, 34, 28),
    leg('Cal', 2145, 34, 34, 45),
    leg('Val', 2468, 34, 34, 48)
  ],
  xAxis: [
    xAx(0, false), xAx(1, false), xAx(2, true),
    {type: 'value', gridIndex: 3, min: 2094, max: 2100, interval: 1, position: 'bottom',
     axisLine: {show: true, onZero: false, lineStyle: {color: '#000', width: F(5)}},
     axisTick: {show: true, length: F(34), lineStyle: {color: '#000', width: F(4)}},
     axisLabel: {margin: Y(74), fontFamily: SANS, fontSize: F(66), color: '#000',
       formatter: v => (yearTicksFuture.indexOf(Math.round(v)) >= 0 && Math.abs(v - Math.round(v)) < 1e-6) ? '01/01/' + Math.round(v) : ''},
     splitLine: {show: false}}
  ],
  yAxis: [
    yAx(0, 0.25, 0.05, 0.1, 1),
    yAx(1, 0.02, 0.0025, 0.005, 3),
    yAx(2, 0.017, 0.005, 0.005, 3),
    {type: 'value', gridIndex: 3, min: 0, max: 1, show: false}
  ],
  graphic: [
    {type: 'text', x: X(468), y: Y(117), style: {text: '(j)', fontFamily: SERIF, fontSize: F(80), fill: '#000', align: 'left', verticalAlign: 'middle'}},
    {type: 'text', x: X(468), y: Y(1215), style: {text: '(k)', fontFamily: SERIF, fontSize: F(80), fill: '#000', align: 'left', verticalAlign: 'middle'}},
    {type: 'text', x: X(468), y: Y(2335), style: {text: '(l)', fontFamily: SERIF, fontSize: F(80), fill: '#000', align: 'left', verticalAlign: 'middle'}},
    {type: 'text', x: X(2081), y: Y(3427), style: {text: 'Date', fontFamily: SANS, fontSize: F(68), fill: '#000', align: 'center', verticalAlign: 'middle'}}
  ],
  series: [
    lineS('CC0', jCc, 0, '#ff0000', 2), lineS('LUC0', jLuc, 0, '#000000', 3),
    scatS('Obs. post 2011', jObs, 0, '#ffffff', '#333333', 4),
    scatS('Cal', jCal, 0, '#ff0000', '#000000', 3),
    scatS('Val', jVal, 0, '#000000', '#000000', 2),
    lineS('CC0', kCc, 1, '#ff0000', 2), lineS('LUC0', kLuc, 1, '#000000', 3),
    scatS('Obs. post 2011', kObs, 1, '#ffffff', '#333333', 4),
    scatS('Cal', kCal, 1, '#ff0000', '#000000', 3),
    scatS('Val', kVal, 1, '#000000', '#000000', 2),
    lineS('CC0', lCc, 2, '#ff0000', 2), lineS('LUC0', lLuc, 2, '#000000', 3),
    scatS('Obs. post 2011', lObs, 2, '#ffffff', '#333333', 4),
    scatS('Cal', lCal, 2, '#ff0000', '#000000', 3),
    scatS('Val', lVal, 2, '#000000', '#000000', 2)
  ]
};
chart.setOption(option);
</script>
</body>
</html>
